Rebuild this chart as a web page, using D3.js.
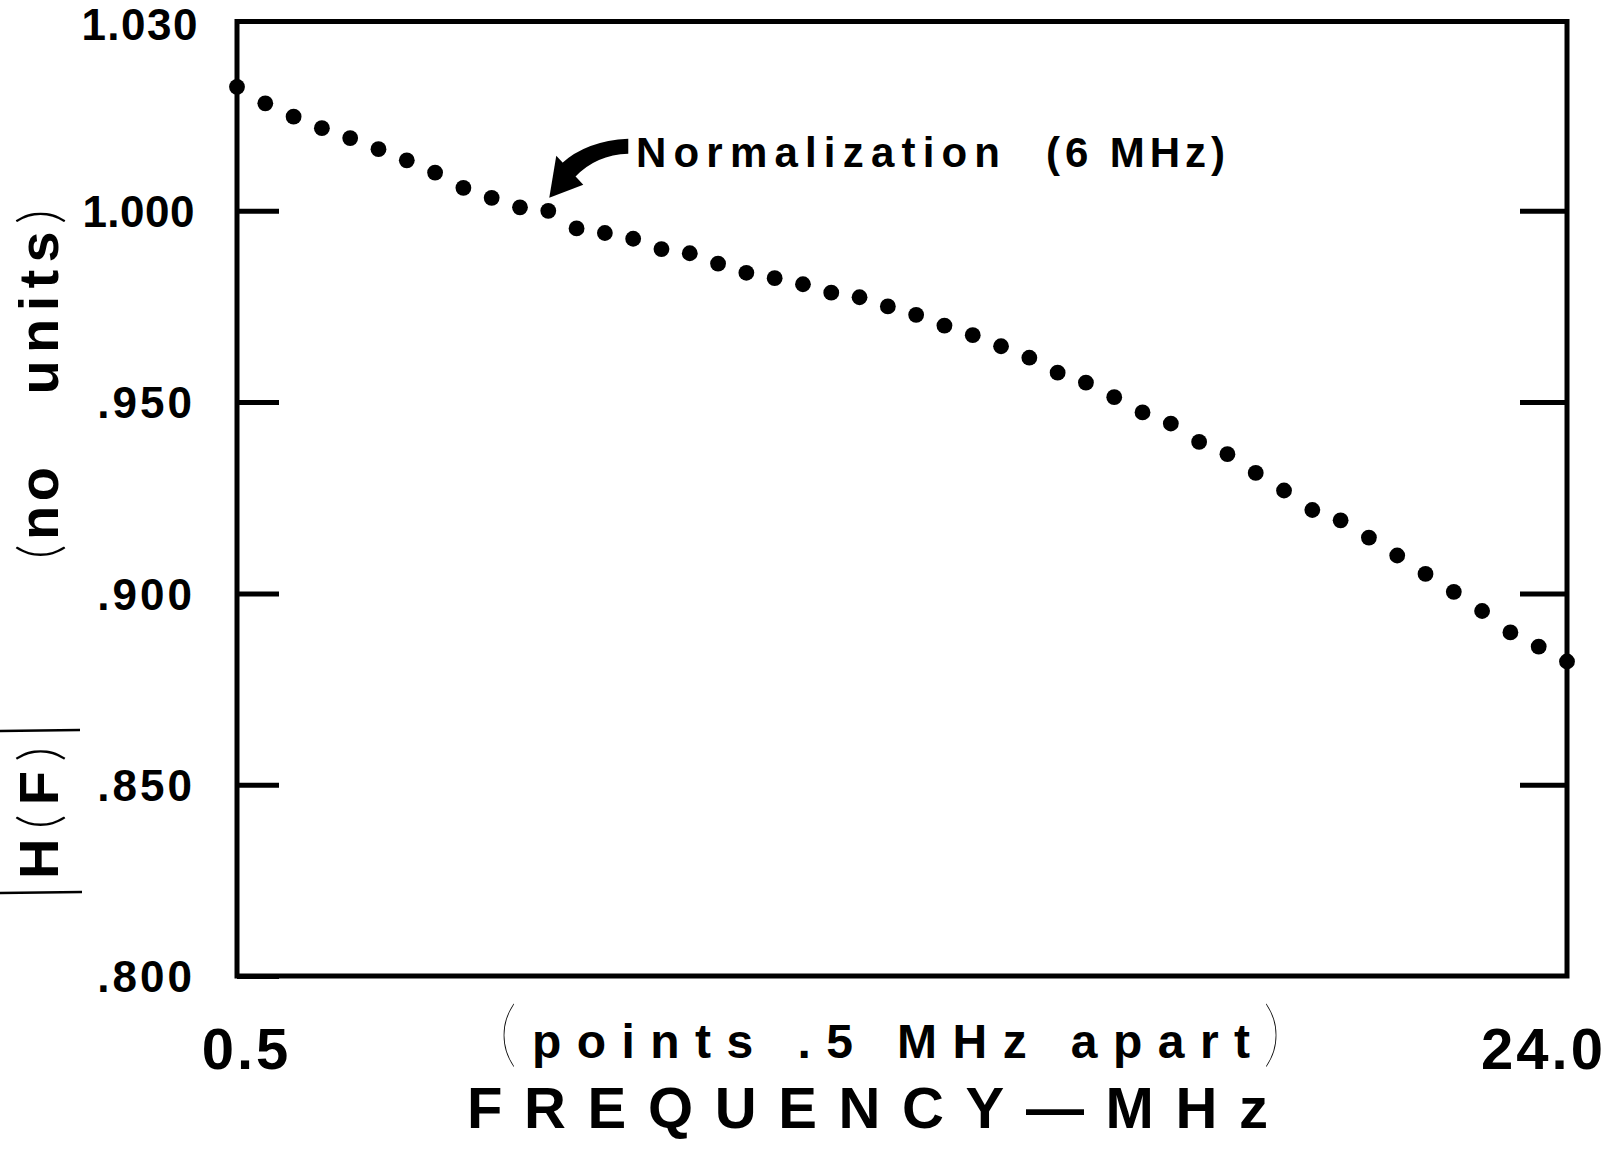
<!DOCTYPE html>
<html>
<head>
<meta charset="utf-8">
<script src="https://cdn.jsdelivr.net/npm/d3@7"></script>
<style>
  html, body { margin: 0; padding: 0; background: #fff; }
  svg { display: block; }
</style>
</head>
<body>
<script>
// Frequency of each plotted point (MHz), 0.5 MHz apart
const frequencies = [
  0.5, 1.0, 1.5, 2.0, 2.5, 3.0, 3.5, 4.0, 4.5, 5.0, 5.5, 6.0,
  6.5, 7.0, 7.5, 8.0, 8.5, 9.0, 9.5, 10.0, 10.5, 11.0, 11.5, 12.0,
  12.5, 13.0, 13.5, 14.0, 14.5, 15.0, 15.5, 16.0, 16.5, 17.0, 17.5, 18.0,
  18.5, 19.0, 19.5, 20.0, 20.5, 21.0, 21.5, 22.0, 22.5, 23.0, 23.5, 24.0
];

// |H(F)| normalized to 1.000 at 6 MHz
const magnitude = [
  1.0324, 1.0281, 1.0246, 1.0216, 1.0190, 1.0161, 1.0132, 1.0100, 1.0060, 1.0034, 1.0009, 1.0000,
  0.9954, 0.9942, 0.9927, 0.9900, 0.9889, 0.9862, 0.9838, 0.9824, 0.9808, 0.9786, 0.9774, 0.9750,
  0.9728, 0.9700, 0.9675, 0.9646, 0.9616, 0.9577, 0.9551, 0.9513, 0.9473, 0.9444, 0.9396, 0.9364,
  0.9315, 0.9269, 0.9218, 0.9191, 0.9146, 0.9099, 0.9051, 0.9004, 0.8954, 0.8898, 0.8861, 0.8822
];

// Axis ticks and their printed labels
const yTickValues = [0.80, 0.85, 0.90, 0.95, 1.00];
const yTickLabels = [".800", ".850", ".900", ".950", "1.000"];
const yTopLabel = "1.030";
const xTickValues = [0.5, 24.0];
const xTickLabels = ["0.5", "24.0"];

const normalizationFreq = 6.0;

const W = 1608, H = 1157;
const plot = { left: 237, right: 1567, top: 21.5, bottom: 976 };
const INK = "#000";
const BOLD = "'Liberation Sans', Arial, sans-serif";
const THIN = "Lato, 'DejaVu Sans', sans-serif";

const svg = d3.select("body").append("svg")
  .attr("width", W).attr("height", H)
  .attr("viewBox", `0 0 ${W} ${H}`);

const x = d3.scaleLinear().domain([0.5, 24.0]).range([plot.left, plot.right]);
const y = d3.scaleLinear().domain([0.80, 1.00]).range([plot.bottom, 210.8]);

// Frame
svg.append("rect")
  .attr("x", plot.left).attr("y", plot.top)
  .attr("width", plot.right - plot.left).attr("height", plot.bottom - plot.top)
  .attr("fill", "none").attr("stroke", INK).attr("stroke-width", 5);

// Left axis: inward ticks, labels well to the left
const yAxisL = svg.append("g")
  .attr("transform", `translate(${plot.left},0)`)
  .call(d3.axisLeft(y)
    .tickValues(yTickValues)
    .tickSizeInner(-42).tickSizeOuter(0).tickPadding(42)
    .tickFormat((d, i) => yTickLabels[i]));
yAxisL.select(".domain").remove();
yAxisL.selectAll(".tick line").attr("stroke", INK).attr("stroke-width", 5);
yAxisL.selectAll(".tick text")
  .attr("fill", INK)
  .attr("font-family", BOLD).attr("font-weight", "bold").attr("font-size", 44)
  .attr("letter-spacing", (d, i) => yTickLabels[i].length > 4 ? 0.5 : 3)
  .attr("dy", "0.36em");

// Right axis: inward ticks only
const yAxisR = svg.append("g")
  .attr("transform", `translate(${plot.right},0)`)
  .call(d3.axisRight(y)
    .tickValues(yTickValues.filter(v => v > 0.80))
    .tickSizeInner(-47).tickSizeOuter(0)
    .tickFormat(""));
yAxisR.select(".domain").remove();
yAxisR.selectAll(".tick line").attr("stroke", INK).attr("stroke-width", 5);

// Label at the top of the value axis
svg.append("text")
  .attr("x", plot.left - 38).attr("y", plot.top + 18)
  .attr("text-anchor", "end")
  .attr("font-family", BOLD).attr("font-weight", "bold").attr("font-size", 44)
  .attr("letter-spacing", 1.5)
  .attr("fill", INK)
  .text(yTopLabel);

// Bottom axis: end labels only
const xAxis = svg.append("g")
  .attr("transform", `translate(0,${plot.bottom})`)
  .call(d3.axisBottom(x)
    .tickValues(xTickValues)
    .tickSize(0).tickPadding(0)
    .tickFormat((d, i) => xTickLabels[i]));
xAxis.select(".domain").remove();
xAxis.selectAll(".tick text")
  .attr("fill", INK)
  .attr("font-family", BOLD).attr("font-weight", "bold").attr("font-size", 58)
  .attr("letter-spacing", 3)
  .attr("dy", 0)
  .attr("y", 93)
  .attr("dx", (d, i) => i === 0 ? 9 : -24);

// Data points
svg.append("g")
  .selectAll("circle")
  .data(frequencies.map((f, i) => ({ f, v: magnitude[i] })))
  .join("circle")
  .attr("cx", d => x(d.f))
  .attr("cy", d => y(d.v))
  .attr("r", 7.9)
  .attr("fill", INK);

// Normalization note with curved arrow pointing at the 6 MHz point
const nx = x(normalizationFreq), ny = y(magnitude[frequencies.indexOf(normalizationFreq)]);
const arrow = svg.append("g").attr("fill", INK);
arrow.append("path")
  .attr("d", `M ${nx + 80},${ny - 72} Q ${nx + 38},${ny - 70} ${nx + 13},${ny - 47}
              L ${nx + 27},${ny - 34} Q ${nx + 48},${ny - 56} ${nx + 80},${ny - 57} Z`);
arrow.append("path")
  .attr("d", `M ${nx + 8},${ny - 55} L ${nx + 35},${ny - 26} L ${nx + 1},${ny - 13} Z`);

svg.append("text")
  .attr("x", 636).attr("y", 167)
  .attr("font-family", BOLD).attr("font-weight", "bold").attr("font-size", 42)
  .attr("fill", INK)
  .attr("textLength", 364).attr("lengthAdjust", "spacing")
  .text("Normalization");
svg.append("text")
  .attr("x", 1046).attr("y", 167)
  .attr("font-family", BOLD).attr("font-weight", "bold").attr("font-size", 42)
  .attr("fill", INK)
  .attr("textLength", 179).attr("lengthAdjust", "spacing")
  .text("(6 MHz)");

// Bottom axis titles: tall thin parentheses around the spacing note
const subtitle = svg.append("text").attr("fill", INK);
subtitle.append("tspan")
  .attr("x", 499).attr("y", 1058)
  .attr("font-family", THIN).attr("font-weight", 200).attr("font-size", 72)
  .text("(");
subtitle.append("tspan")
  .attr("x", 532).attr("y", 1058)
  .attr("font-family", BOLD).attr("font-weight", "bold").attr("font-size", 48)
  .attr("textLength", 718).attr("lengthAdjust", "spacing")
  .text("points .5 MHz apart");
subtitle.append("tspan")
  .attr("x", 1263).attr("y", 1058)
  .attr("font-family", THIN).attr("font-weight", 200).attr("font-size", 72)
  .text(")");

svg.append("text")
  .attr("x", 467).attr("y", 1128)
  .attr("font-family", BOLD).attr("font-weight", "bold").attr("font-size", 58)
  .attr("fill", INK)
  .attr("textLength", 801).attr("lengthAdjust", "spacing")
  .text("FREQUENCY—MHz");

// Value axis title, reading bottom to top
const yTitle = svg.append("g");
function vText(cy, parts, len) {
  const t = yTitle.append("text")
    .attr("transform", `translate(58,${cy}) rotate(-90)`)
    .attr("text-anchor", "middle")
    .attr("fill", INK)
    .attr("font-size", 56)
    .attr("textLength", len).attr("lengthAdjust", "spacing");
  parts.forEach(([s, thin]) => {
    t.append("tspan")
      .attr("font-family", thin ? THIN : BOLD)
      .attr("font-weight", thin ? 300 : "bold")
      .text(s);
  });
}
vText(813, [["H", false], ["(", true], ["F", false], [")", true]], 132);
vText(513, [["(", true], ["no", false]], 92);
vText(302, [["units", false], [")", true]], 185);
// absolute-value bars around H(F)
yTitle.append("line").attr("x1", 0).attr("x2", 82).attr("y1", 893).attr("y2", 892)
  .attr("stroke", INK).attr("stroke-width", 2.5);
yTitle.append("line").attr("x1", 0).attr("x2", 80).attr("y1", 731).attr("y2", 730)
  .attr("stroke", INK).attr("stroke-width", 2.5);
</script>
</body>
</html>
